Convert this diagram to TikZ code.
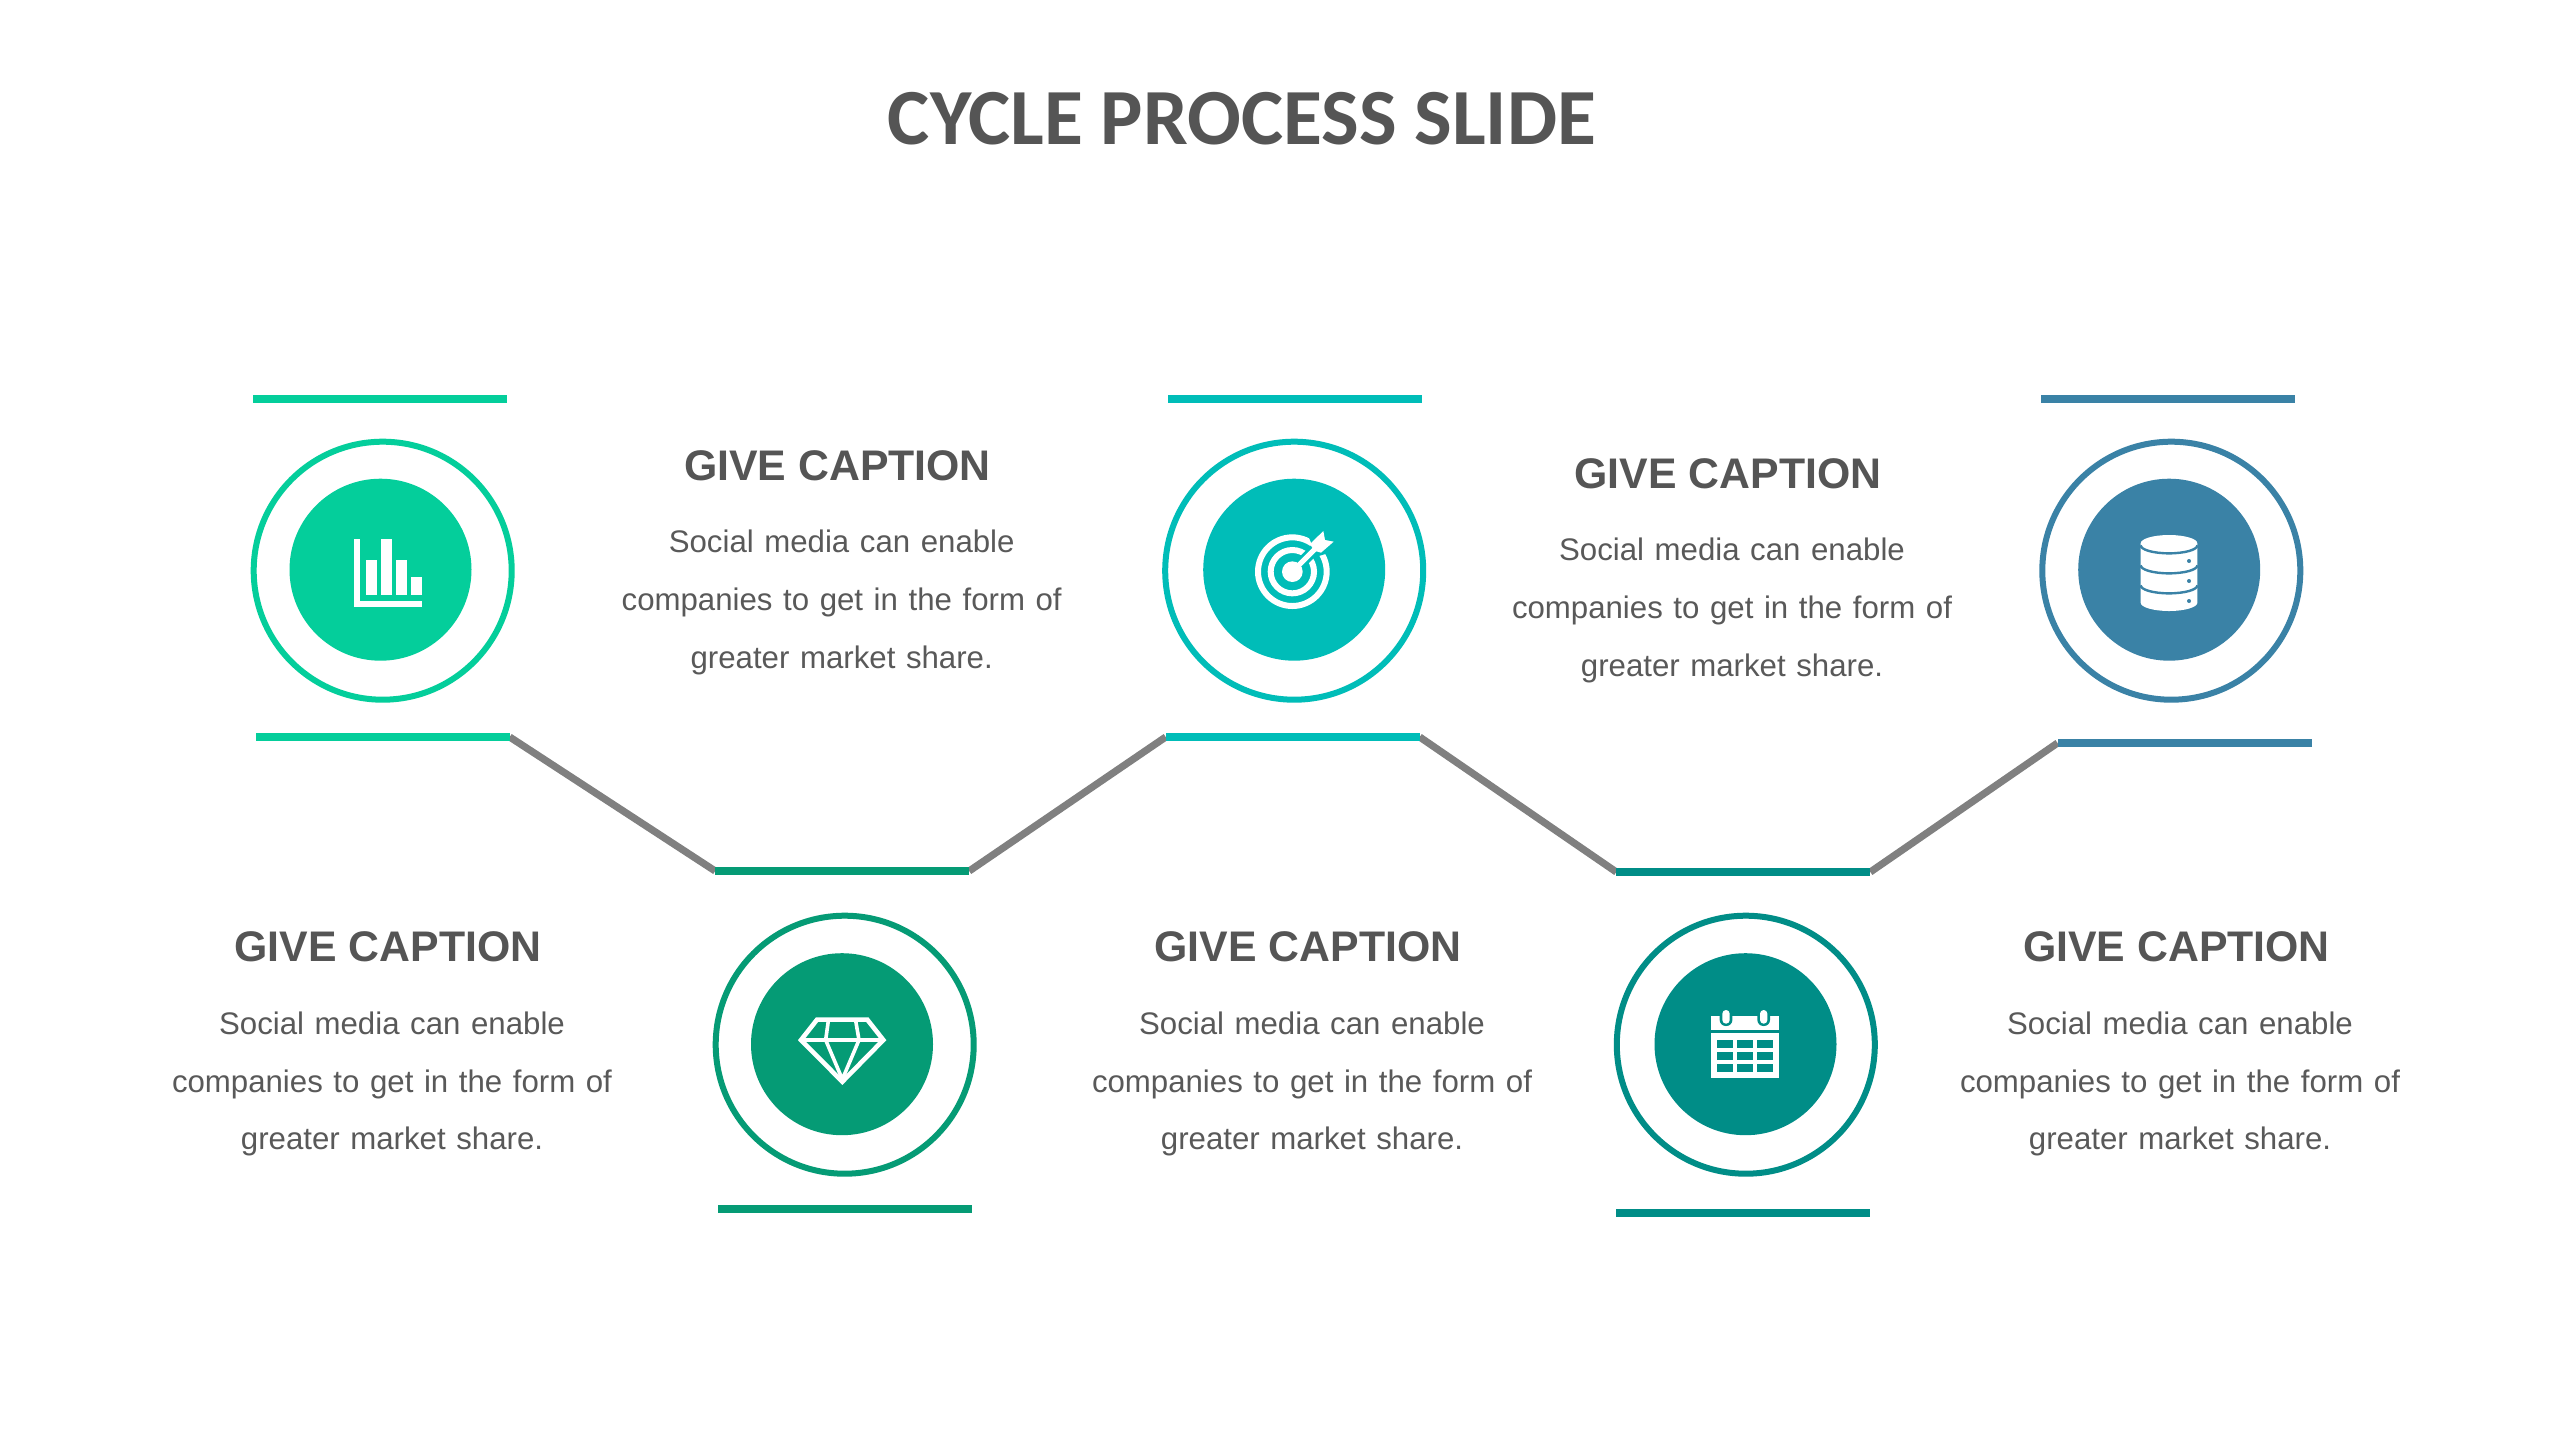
\documentclass[tikz,border=0pt]{standalone}
\usepackage{fontspec}
\setmainfont{Liberation Sans}
\newfontfamily\titlefont{Carlito}
\usetikzlibrary{backgrounds}
\definecolor{cA}{HTML}{04CE9B}
\definecolor{cB}{HTML}{00BDB8}
\definecolor{cC}{HTML}{3A82A6}
\definecolor{cD}{HTML}{059B75}
\definecolor{cE}{HTML}{008D87}
\definecolor{ink}{HTML}{555555}
\definecolor{bodyink}{HTML}{595959}
\definecolor{link}{HTML}{808080}
\newcommand{\bodyfontsetup}{\fontsize{15.6}{28.8}\selectfont\spaceskip 0.34em\relax}
\tikzset{
  ring/.style={circle,draw=#1,line width=3pt,fill=white,minimum size=129pt,inner sep=0pt,outer sep=0pt},
  disc/.style={circle,fill=#1,minimum size=91pt,inner sep=0pt,outer sep=0pt},
  barline/.style={rectangle,fill=#1,minimum width=127pt,minimum height=4pt,inner sep=0pt,outer sep=0pt},
  connector/.style={draw=link,line width=3.6pt,line cap=butt},
  caption/.style={text=ink,font=\fontsize{21.4}{26}\selectfont\bfseries,inner sep=0pt},
  bodytext/.style={text=bodyink,align=center,inner sep=0pt,font=\bodyfontsetup},
  titletext/.style={text=ink,font=\titlefont\fontsize{39.8}{44}\selectfont\bfseries,inner sep=0pt},
  zoomed/.style={x=0.166667pt,y=-0.166667pt}
}
\newcommand{\bodycopy}{Social media can enable\\companies to get in the form of\\greater market share.}
\begin{document}
\begin{tikzpicture}[x=0.5pt,y=-0.5pt]
\useasboundingbox (0,0) rectangle (2559,1440);

\node[titletext] (title) at (1242,119) {CYCLE PROCESS SLIDE};

% bars
\node[barline=cA] (a1) at (380,399) {};
\node[barline=cA] (a2) at (382.7,737) {};
\node[barline=cB] (b1) at (1295.3,399) {};
\node[barline=cB] (b2) at (1292.7,737) {};
\node[barline=cC] (c1) at (2168.3,399) {};
\node[barline=cC] (c2) at (2184.5,743) {};
\node[barline=cD] (d1) at (842.2,871) {};
\node[barline=cD] (d2) at (845.4,1209) {};
\node[barline=cE] (e1) at (1743.3,872) {};
\node[barline=cE] (e2) at (1743.3,1213) {};

% connectors
\begin{scope}[on background layer]
\fill[white] (0,0) rectangle (2559,1440);
\draw[connector] (a2.east) -- (d1.west);
\draw[connector] (d1.east) -- (b2.west);
\draw[connector] (b2.east) -- (e1.west);
\draw[connector] (e1.east) -- (c2.west);
\end{scope}

% rings and discs
\node[ring=cA] (ra) at (382.7,570.7) {};
\node[disc=cA] (da) at (380.5,569.7) {};
\node[ring=cB] (rb) at (1294.2,570.7) {};
\node[disc=cB] (db) at (1294.2,569.7) {};
\node[ring=cC] (rc) at (2171.3,570.7) {};
\node[disc=cC] (dc) at (2169.2,569.7) {};
\node[ring=cD] (rd) at (844.7,1044.7) {};
\node[disc=cD] (dd) at (842,1044.2) {};
\node[ring=cE] (re) at (1745.8,1044.7) {};
\node[disc=cE] (de) at (1745.5,1044.2) {};

% icon: bar chart
\begin{scope}[shift={(220,380)},zoomed]
\fill[white] (402,477) rectangle (419,681);
\fill[white] (402,664) rectangle (607,681);
\fill[white] (438,540) rectangle (471,645);
\fill[white] (483,477) rectangle (517,645);
\fill[white] (527,540) rectangle (561,645);
\fill[white] (573,591) rectangle (607,645);
\end{scope}

% icon: target
\begin{scope}[shift={(1130,380)},zoomed]
\draw[white,line width=3pt] (487,575) circle [radius=103];
\draw[white,line width=3pt] (487,575) circle [radius=65];
\draw[cB,line width=5.5pt] (487,575) -- (590,472);
\fill[cB] (530,455) -- (600,440) -- (625,510) -- (560,530) -- cycle;
\fill[white] (487,575) circle [radius=31];
\draw[white,line width=2.6pt] (487,575) -- (565,497);
\fill[white] (580,453) -- (585,480) -- (611,485) -- (573,518) -- (552,512) -- (540,492) -- cycle;
\end{scope}

% icon: database
\begin{scope}[shift={(2010,380)},zoomed]
\fill[white] (392,490) -- (392,668) arc [start angle=180,end angle=0,x radius=85,y radius=25] -- (562,490) arc [start angle=0,end angle=-180,x radius=85,y radius=25] -- cycle;
\foreach \yy in {496,556,616}{
  \draw[cC,line width=1.2pt] (392,\yy) arc [start angle=180,end angle=0,x radius=85,y radius=24];
}
\foreach \yy in {543,603,663}{
  \fill[cC] (537,\yy) circle [radius=6];
}
\end{scope}

% icon: diamond
\begin{scope}[shift={(690,850)},zoomed]
\draw[white,line width=2.3pt,line join=miter,miter limit=10] (381,509) -- (532,509) -- (580,570) -- (457,695) -- (333,570) -- cycle;
\draw[white,line width=1.8pt] (333,570) -- (580,570);
\draw[white,line width=1.8pt] (415,512) -- (407,570) -- (457,688) -- (507,570) -- (497,512);
\end{scope}

% icon: calendar
\begin{scope}[shift={(1600,850)},zoomed]
\fill[white] (332,497) rectangle (538,685);
\fill[cE] (332,541) rectangle (538,550);
\foreach \xx in {351,411,471}{
  \foreach \yy/\yz in {570/25,607/23,642/24}{
    \fill[cE] (\xx,\yy) rectangle ++(48,\yz);
  }
}
\foreach \xx in {378,491}{
  \begin{scope}
  \clip (300,497) rectangle (570,540);
  \fill[cE,rounded corners=3pt] (\xx-19,470) rectangle (\xx+19,528);
  \end{scope}
  \fill[white,rounded corners=1.8pt] (\xx-11,480) rectangle (\xx+11,521);
}
\end{scope}

% captions
\node[caption] (cap1) at (837.5,465.5) {GIVE CAPTION};
\node[bodytext] (txt1) at (841.7,602.5) {\bodycopy};
\node[caption] (cap2) at (1728,473.5) {GIVE CAPTION};
\node[bodytext] (txt2) at (1732,610.5) {\bodycopy};
\node[caption] (cap3) at (388,947) {GIVE CAPTION};
\node[bodytext] (txt3) at (392,1084) {\bodycopy};
\node[caption] (cap4) at (1308,947) {GIVE CAPTION};
\node[bodytext] (txt4) at (1312,1084) {\bodycopy};
\node[caption] (cap5) at (2176.5,947) {GIVE CAPTION};
\node[bodytext] (txt5) at (2180,1084) {\bodycopy};
\end{tikzpicture}
\end{document}
